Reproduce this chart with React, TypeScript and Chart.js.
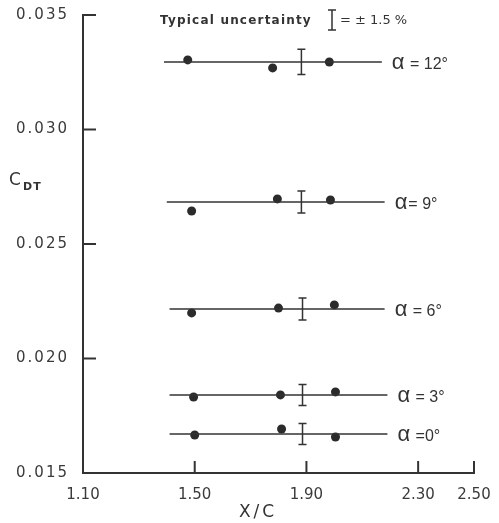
import React, { useEffect, useRef } from "react";
import { Chart, registerables } from "chart.js";

Chart.register(...registerables);

// ---- data ----
const alphaLabels = ["α = 12°", "α= 9°", "α = 6°", "α = 3°", "α =0°"];
const lineLevels = [0.03295, 0.02683, 0.02216, 0.01841, 0.0167];
const lineStart = [1.39, 1.4, 1.41, 1.41, 1.41];
const lineEnd = [2.17, 2.18, 2.18, 2.19, 2.19];

const x12 = [1.475, 1.779, 1.982];
const y12 = [0.03304, 0.03269, 0.03295];
const x9 = [1.489, 1.796, 1.986];
const y9 = [0.02644, 0.02697, 0.02692];
const x6 = [1.489, 1.8, 2.0];
const y6 = [0.02199, 0.0222, 0.02234];
const x3 = [1.496, 1.807, 2.004];
const y3 = [0.01832, 0.01841, 0.01854];
const x0 = [1.5, 1.811, 2.004];
const y0 = [0.01666, 0.01692, 0.01657];

const errX = [1.882, 1.882, 1.886, 1.886, 1.886];
const errHalf = [0.00055, 0.00048, 0.00048, 0.00046, 0.00046];

const xTicks = [1.1, 1.5, 1.9, 2.3, 2.5];
const yTicks = [0.015, 0.02, 0.025, 0.03, 0.035];

const INK = "#333";

const seriesX = [x12, x9, x6, x3, x0];
const seriesY = [y12, y9, y6, y3, y0];

export default function App() {
  const ref = useRef<HTMLCanvasElement | null>(null);

  useEffect(() => {
    if (!ref.current) return;
    const datasets: any[] = [];
    lineLevels.forEach((lv, i) => {
      datasets.push({
        data: [
          { x: lineStart[i], y: lv },
          { x: lineEnd[i], y: lv },
        ],
        showLine: true,
        borderColor: INK,
        borderWidth: 1.5,
        pointRadius: 0,
      });
      datasets.push({
        data: seriesX[i].map((x, j) => ({ x, y: seriesY[i][j] })),
        showLine: false,
        pointRadius: 4.5,
        backgroundColor: "#2b2b2b",
        borderColor: "#2b2b2b",
        borderWidth: 0,
      });
    });

    const decor = {
      id: "decor",
      beforeDraw(chart: any) {
        const c = chart.ctx;
        c.save();
        c.fillStyle = "#fff";
        c.fillRect(0, 0, chart.width, chart.height);
        c.restore();
        (c as any).letterSpacing = "0px";
      },
      afterDatasetsDraw(chart: any) {
        // y-axis labels (ticks.z = 1) are drawn after this hook: wider spacing
        (chart.ctx as any).letterSpacing = "2px";
      },
      afterDraw(chart: any) {
        const c = chart.ctx as CanvasRenderingContext2D;
        (c as any).letterSpacing = "0px";
        const xs = chart.scales.x;
        const ys = chart.scales.y;
        const area = chart.chartArea;
        c.save();
        c.strokeStyle = INK;
        c.fillStyle = INK;
        // inner ticks
        c.lineWidth = 2;
        xTicks.forEach((t) => {
          if (t === xTicks[0]) return;
          const px = xs.getPixelForValue(t);
          c.beginPath();
          c.moveTo(px, area.bottom);
          c.lineTo(px, area.bottom - 12);
          c.stroke();
        });
        yTicks.forEach((t) => {
          if (t === yTicks[0]) return;
          const py = ys.getPixelForValue(t);
          c.beginPath();
          c.moveTo(area.left, py);
          c.lineTo(area.left + 13, py);
          c.stroke();
        });
        // error bars
        c.lineWidth = 1.5;
        errX.forEach((ex, i) => {
          const px = xs.getPixelForValue(ex);
          const top = ys.getPixelForValue(lineLevels[i] + errHalf[i]);
          const bot = ys.getPixelForValue(lineLevels[i] - errHalf[i]);
          c.beginPath();
          c.moveTo(px, top);
          c.lineTo(px, bot);
          c.moveTo(px - 4, top);
          c.lineTo(px + 4, top);
          c.moveTo(px - 4, bot);
          c.lineTo(px + 4, bot);
          c.stroke();
        });
        // alpha labels
        c.textBaseline = "alphabetic";
        c.textAlign = "left";
        alphaLabels.forEach((lab, i) => {
          let px = xs.getPixelForValue(lineEnd[i]) + 10;
          const py = ys.getPixelForValue(lineLevels[i]) + 7;
          c.font = "22px 'Liberation Sans'";
          c.fillText(lab.charAt(0), px, py);
          px += c.measureText(lab.charAt(0)).width + 1;
          c.font = "16px 'Liberation Sans'";
          c.fillText(lab.slice(1), px, py);
        });
        // title
        c.textBaseline = "middle";
        (c as any).letterSpacing = "1.2px";
        c.font = "bold 12px 'DejaVu Sans'";
        c.fillText("Typical uncertainty", 160, 21);
        (c as any).letterSpacing = "0px";
        c.lineWidth = 1.5;
        c.beginPath();
        c.moveTo(332, 10);
        c.lineTo(332, 30);
        c.moveTo(328, 10);
        c.lineTo(336, 10);
        c.moveTo(328, 30);
        c.lineTo(336, 30);
        c.stroke();
        c.font = "13px 'DejaVu Sans'";
        c.fillText("= ± 1.5 %", 340, 21);
        // y title
        c.font = "17px 'DejaVu Sans'";
        c.fillText("C", 9, 181);
        (c as any).letterSpacing = "1px";
        c.font = "bold 11px 'DejaVu Sans'";
        c.fillText("DT", 23, 187);
        // x title
        (c as any).letterSpacing = "3px";
        c.font = "17px 'DejaVu Sans'";
        c.textAlign = "center";
        c.fillText("X/C", 258, 513);
        (c as any).letterSpacing = "0px";
        c.restore();
      },
    };

    const chart = new Chart(ref.current, {
      type: "scatter",
      data: { datasets },
      plugins: [decor],
      options: {
        animation: false,
        responsive: false,
        events: [],
        layout: { padding: { top: 15, right: 25, left: 0, bottom: 0 } },
        plugins: { legend: { display: false }, tooltip: { enabled: false } },
        scales: {
          x: {
            type: "linear",
            min: 1.1,
            max: 2.5,
            afterBuildTicks: (s: any) => {
              s.ticks = xTicks.map((v) => ({ value: v }));
            },
            afterFit: (s: any) => {
              s.height = 50;
              s.paddingLeft = 0;
              s.paddingRight = 0;
            },
            grid: { display: false, drawTicks: false },
            border: { display: true, color: INK, width: 2 },
            ticks: {
              color: "#3a3a3a",
              font: { family: "'DejaVu Sans'", size: 15 },
              padding: 13,
              autoSkip: false,
              maxRotation: 0,
              callback: (v: any) => Number(v).toFixed(2),
            },
          },
          y: {
            type: "linear",
            min: 0.015,
            max: 0.035,
            afterBuildTicks: (s: any) => {
              s.ticks = yTicks.map((v) => ({ value: v }));
            },
            afterFit: (s: any) => {
              s.width = 83;
              s.paddingTop = 0;
              s.paddingBottom = 0;
            },
            grid: { display: false, drawTicks: false },
            border: { display: true, color: INK, width: 2 },
            ticks: {
              z: 1,
              color: "#3a3a3a",
              font: { family: "'DejaVu Sans'", size: 15 },
              padding: 14,
              callback: (v: any) => Number(v).toFixed(3),
            },
          },
        },
      } as any,
    });
    return () => chart.destroy();
  }, []);

  return (
    <canvas
      ref={ref}
      width={499}
      height={523}
      style={{ position: "absolute", left: 0, top: 0, width: 499, height: 523 }}
    />
  );
}
